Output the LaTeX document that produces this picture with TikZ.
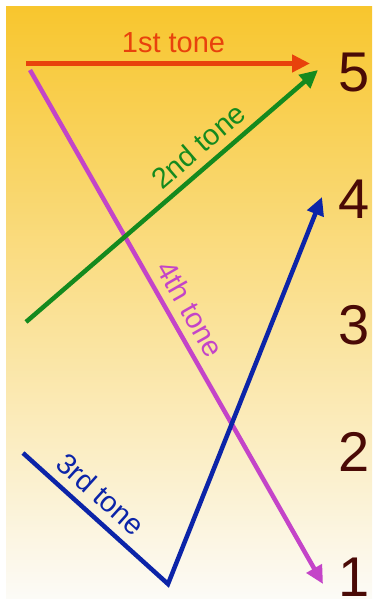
\documentclass[tikz,border=0pt]{standalone}
\usepackage{fontspec}
\setmainfont{Liberation Sans}
\usetikzlibrary{arrows.meta}
\definecolor{bgtop}{RGB}{248,198,46}
\definecolor{bgmid}{RGB}{250,224,142}
\definecolor{bgbot}{RGB}{252,251,247}
\definecolor{tred}{RGB}{232,66,12}
\definecolor{tgreen}{RGB}{20,138,30}
\definecolor{tmag}{RGB}{196,68,200}
\definecolor{tblue}{RGB}{12,36,168}
\definecolor{tnum}{RGB}{74,10,6}
\tikzset{
  tone/.style={line width=4.5pt, -{Triangle[length=18pt,width=17pt]}},
  tonelabel/.style={font=\fontsize{29}{32}\selectfont, inner sep=0pt, sloped},
  level/.style={font=\fontsize{56}{60}\selectfont, text=tnum, anchor=base, inner sep=0pt},
}
\begin{document}
\begin{tikzpicture}[x=1pt,y=1pt]
\useasboundingbox (0,0) rectangle (372,599);
\shade[top color=bgtop, middle color=bgmid, bottom color=bgbot] (6,0) rectangle (372,592);
% levels
\node[level] (n5) at (354,507) {5};
\node[level] (n4) at (354,380.5) {4};
\node[level] (n3) at (354,254) {3};
\node[level] (n2) at (354,127.5) {2};
\node[level] (n1) at (354,2.5) {1};
% end points
\coordinate (r1) at (26,535.5);
\coordinate (r2) at (310,535.5);
\coordinate (g1) at (26,277);
\coordinate (g2) at (318,529);
\coordinate (m1) at (30,529);
\coordinate (m2) at (323,15);
\coordinate (b1) at (23,146);
\coordinate (b2) at (168,15);
\coordinate (b3) at (322,402);
% tones
\draw[tone, tmag] (m1) -- node[tonelabel, text=tmag, pos=0.485, above=8pt] (l4) {4th tone} (m2);
\draw[tone, tgreen] (g1) -- node[tonelabel, text=tgreen, pos=0.636, above=8pt] (l2) {2nd tone} (g2);
\draw[tone, tblue, line join=miter] (b1) -- node[tonelabel, text=tblue, pos=0.437, above=9pt] (l3) {3rd tone} (b2) -- (b3);
\draw[tone, tred] (r1) -- (r2);
\node[font=\fontsize{29}{32}\selectfont, text=tred, anchor=base, inner sep=0pt] (l1) at (173.5,546.3) {1st tone};
\end{tikzpicture}
\end{document}
